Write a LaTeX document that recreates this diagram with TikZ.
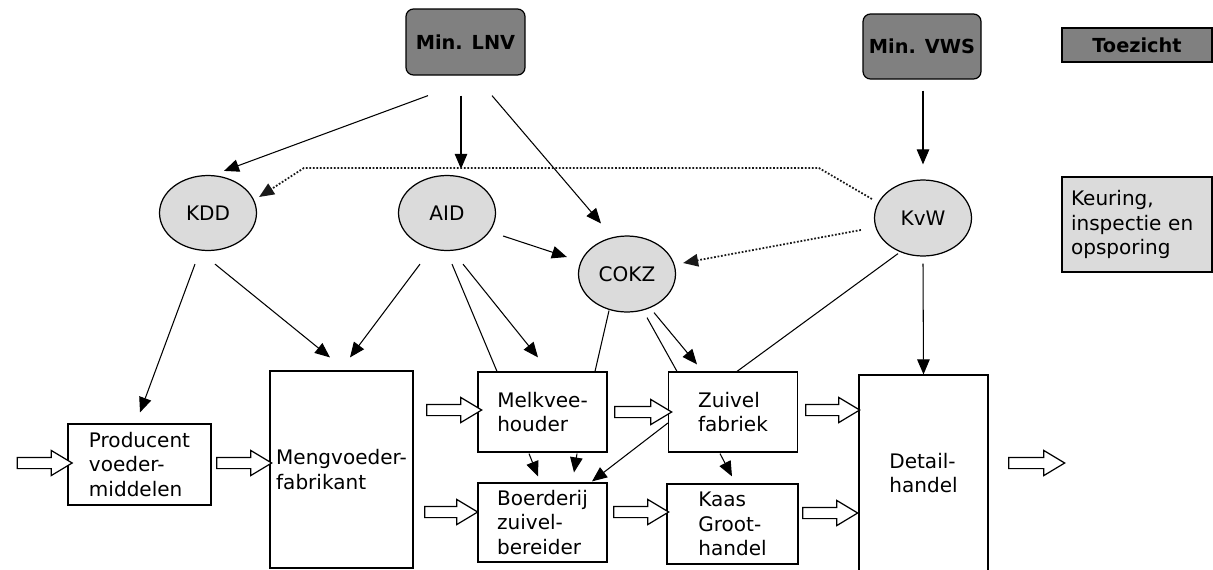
\documentclass[tikz,border=0pt]{standalone}
\usepackage{fontspec}
\setmainfont{DejaVu Sans}
\usetikzlibrary{arrows.meta,shapes.geometric,shapes.arrows,calc}

\begin{document}
\begin{tikzpicture}[x=0.02cm,y=-0.02cm,
    font=\fontsize{11.4}{13.8}\selectfont,
    minister/.style={draw,line width=0.7pt,fill=black!50,rounded corners=0.15cm,
        font=\fontsize{11}{13}\selectfont\bfseries,minimum width=2.38cm,minimum height=1.32cm},
    dienst/.style={ellipse,draw,line width=0.7pt,fill=black!14,minimum width=1.94cm,
        minimum height=1.5cm,inner sep=0pt},
    schakel/.style={rectangle,draw,line width=0.7pt,align=left,minimum width=2.58cm,
        minimum height=1.6cm,inner sep=0pt},
    stroom/.style={single arrow,draw,line width=0.7pt,fill=white,inner sep=0.1cm,
        single arrow head extend=0.14cm,single arrow tip angle=62,minimum height=1.1cm},
    pijl/.style={line width=0.6pt,-{Triangle[length=0.3cm,width=0.25cm]}},
    lijn/.style={line width=0.6pt},
    stip/.style={line width=1pt,densely dotted,black!90,-{Triangle[length=0.3cm,width=0.25cm]}}]
    \useasboundingbox (0,0) rectangle (1213,569);

    % toezicht
    \node[minister] (lnv) at (465.5,42) {Min. LNV};
    \node[minister,minimum width=2.36cm,minimum height=1.3cm] (vws) at (922,46.5) {Min. VWS};

    % legenda
    \node[draw,line width=0.7pt,fill=black!50,minimum width=3cm,minimum height=0.68cm,
        font=\fontsize{11}{13}\selectfont\bfseries] (toezicht) at (1137,45) {Toezicht};
    \node[draw,line width=0.7pt,fill=black!14,text width=2.64cm,inner xsep=0.18cm,
        minimum height=1.9cm,align=left] (keuring) at (1137,224.5) {Keuring,\\inspectie~en\\opsporing};

    % keuring, inspectie en opsporing
    \node[dienst] (kdd) at (208,213) {KDD};
    \node[dienst] (aid) at (447,213) {AID};
    \node[dienst,minimum height=1.52cm] (cokz) at (627,274) {COKZ};
    \node[dienst,minimum height=1.52cm] (kvw) at (923,218) {KvW};

    % keten
    \node[schakel,minimum width=2.86cm,minimum height=1.62cm] (prod) at (139.5,464.5) {Producent\\voeder-\\middelen};
    \node[schakel,minimum width=2.86cm,minimum height=3.94cm] (meng) at (341.5,469.5) {Mengvoeder-\\fabrikant};
    \node[schakel] (melk) at (542.5,412) {Melkvee-\\houder};
    \node[schakel] (zuiv) at (733,412) {Zuivel\\fabriek};
    \node[schakel,minimum height=1.58cm] (boer) at (542.5,522.5) {Boerderij\\zuivel-\\bereider};
    \node[schakel,minimum width=2.62cm] (kaas) at (732.5,524) {Kaas\\Groot-\\handel};
    \node[schakel,minimum height=3.92cm] (detail) at (923.5,473) {Detail-\\handel};

    % goederenstroom
    \node[stroom] (in) at (40,463) {};
    \node[stroom] (s1) at (239.5,463) {};
    \node[stroom] (s2) at (449.5,410) {};
    \node[stroom,minimum height=1.06cm] (s3) at (446.5,512) {};
    \node[stroom,minimum height=1.14cm] (s4) at (638.5,412) {};
    \node[stroom] (s5) at (636.5,512) {};
    \node[stroom,minimum height=1.08cm] (s6) at (828,410) {};
    \node[stroom] (s7) at (825.5,513) {};
    \node[stroom,minimum height=1.12cm] (uit) at (1032,463) {};

    % ministeries
    \draw[pijl] ($(lnv.south)+(-37.5,20)$) -- ($(kdd.north)+(16,-4)$);
    \draw[pijl] ($(lnv.south)+(-4.5,20)$) -- ($(aid.north)+(14,-6)$);
    \draw[pijl] ($(lnv.south)+(26.5,20)$) -- ($(cokz.north)+(-26,-12)$);
    \draw[pijl] ($(vws.south)+(1,11)$) -- ($(kvw.north)+(0,-15)$);

    % KvW
    \draw[stip] ($(kvw.west)+(-2,-19)$) -- ++(-53,-31) -- ++(-515,0) -- ($(kdd.east)+(2,-16)$);
    \draw[stip] ($(kvw.west)+(-13,12)$) -- ($(cokz.east)+(7,-11)$);
    \draw[lijn] ($(kvw.south)+(-25,-3)$) -- ($(zuiv.north)+(4,0)$);
    \draw[pijl] ($(kvw.south)+(0,7)$) -- (detail.north);

    % KDD en AID
    \draw[pijl] ($(aid.east)+(7,23)$) -- ($(cokz.west)+(-11,-17)$);
    \draw[pijl] ($(kdd.south)+(-13,13)$) -- ($(prod.north)+(0.5,-11)$);
    \draw[pijl] ($(kdd.south)+(7,13)$) -- ($(meng.north)+(-11.5,-13)$);
    \draw[pijl] ($(aid.south)+(-27,13)$) -- ($(meng.north)+(8.5,-13)$);
    \draw[lijn] ($(aid.south)+(5,13)$) -- ($(melk.north)+(-45.5,0)$);
    \draw[pijl] ($(aid.south)+(16,13)$) -- ($(melk.north)+(-4.5,-14)$);

    % COKZ
    \draw[lijn] ($(cokz.south)+(-18,-2)$) -- ($(melk.north)+(52.5,0)$);
    \draw[lijn] ($(cokz.south)+(20,5)$) -- ($(zuiv.north)+(-56,0)$);
    \draw[pijl] ($(cokz.south)+(27,0)$) -- ($(zuiv.north)+(-36,-7)$);

    % binnen de keten
    \draw[pijl] ($(melk.south)+(-13.5,1)$) -- ($(boer.north)+(-4.5,-6)$);
    \draw[pijl] ($(melk.south)+(34.5,1)$) -- ($(boer.north)+(31.5,-10)$);
    \draw[pijl] ($(zuiv.west)+(0,11)$) -- ($(boer.north)+(49.5,-1)$);
    \draw[pijl] ($(zuiv.south)+(-13,1)$) -- ($(kaas.north)+(-0.5,-7)$);
\end{tikzpicture}
\end{document}
